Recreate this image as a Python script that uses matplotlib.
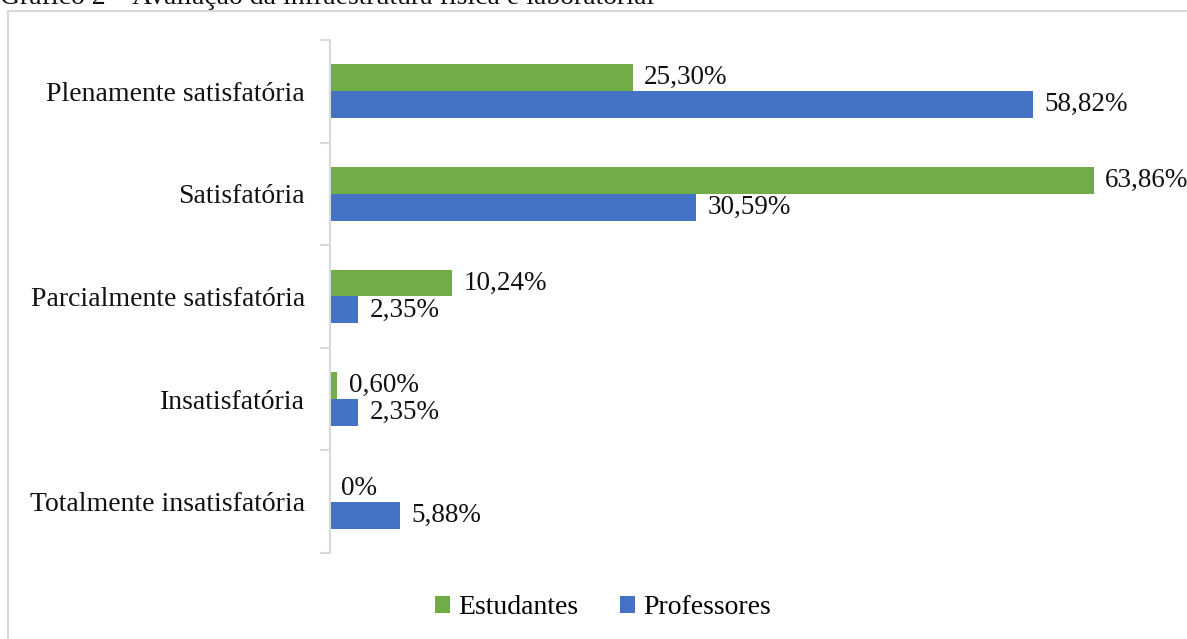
import numpy as np
import matplotlib.pyplot as plt
from matplotlib.patches import Rectangle

categorias = ['Plenamente satisfatória', 'Satisfatória', 'Parcialmente satisfatória',
              'Insatisfatória', 'Totalmente insatisfatória']
estudantes = [25.30, 63.86, 10.24, 0.60, 0.0]
professores = [58.82, 30.59, 2.35, 2.35, 5.88]
rotulos_est = ['25,30%', '63,86%', '10,24%', '0,60%', '0%']
rotulos_prof = ['58,82%', '30,59%', '2,35%', '2,35%', '5,88%']

plt.rcParams['font.family'] = ['Liberation Serif', 'DejaVu Serif']
verde = '#70AD47'
azul = '#4472C4'
cinza = '#D9D9D9'
fs = 20

fig = plt.figure(figsize=(11.87, 6.39), dpi=100)
W, H = 1187, 639
# area do grafico em pixels: x 330..1167, y 40..553
ax = fig.add_axes([330 / W, 1 - 553 / H, (1167 - 330) / W, (553 - 40) / H])

y = np.arange(len(categorias))
h = 0.263
b1 = ax.barh(y - h / 2, estudantes, height=h, color=verde, label='Estudantes')
b2 = ax.barh(y + h / 2, professores, height=h, color=azul, label='Professores')

for bar, txt in zip(b1, rotulos_est):
    ax.text(bar.get_width() + 0.95, bar.get_y() + bar.get_height() / 2, txt,
            va='center', ha='left', fontsize=19.5, color='#111111')
for bar, txt in zip(b2, rotulos_prof):
    ax.text(bar.get_width() + 0.95, bar.get_y() + bar.get_height() / 2, txt,
            va='center', ha='left', fontsize=19.5, color='#111111')

ax.set_xlim(0, 70)
ax.set_ylim(len(categorias) - 0.5, -0.5)
ax.set_yticks(y)
ax.set_yticklabels(categorias, fontsize=fs, color='#111111')
ax.set_yticks(np.arange(-0.5, len(categorias)), minor=True)
ax.tick_params(axis='y', which='major', length=0, pad=18)
ax.tick_params(axis='y', which='minor', length=7, color=cinza, width=1.5)
ax.set_xticks([])
for s in ['top', 'right', 'bottom']:
    ax.spines[s].set_visible(False)
ax.spines['left'].set_color(cinza)
ax.spines['left'].set_linewidth(1.5)

fig.legend(handles=[b1, b2], loc='center', bbox_to_anchor=(603 / W, 1 - 608 / H),
           ncol=2, frameon=False, fontsize=fs, handlelength=0.55, handleheight=0.55,
           handletextpad=0.3, columnspacing=1.5)

# moldura do grafico (parte fica fora da imagem)
fig.patches.append(Rectangle((8 / W, -0.1), 1.2, 1 - 11 / H + 0.1, transform=fig.transFigure,
                             fill=False, edgecolor=cinza, linewidth=1.5))

fig.text(0, 1 - 4 / H, 'Gráfico 2 – Avaliação da infraestrutura física e laboratorial',
         ha='left', va='baseline', fontsize=fs, color='#111111')

fig.savefig('out.png', dpi=100)
